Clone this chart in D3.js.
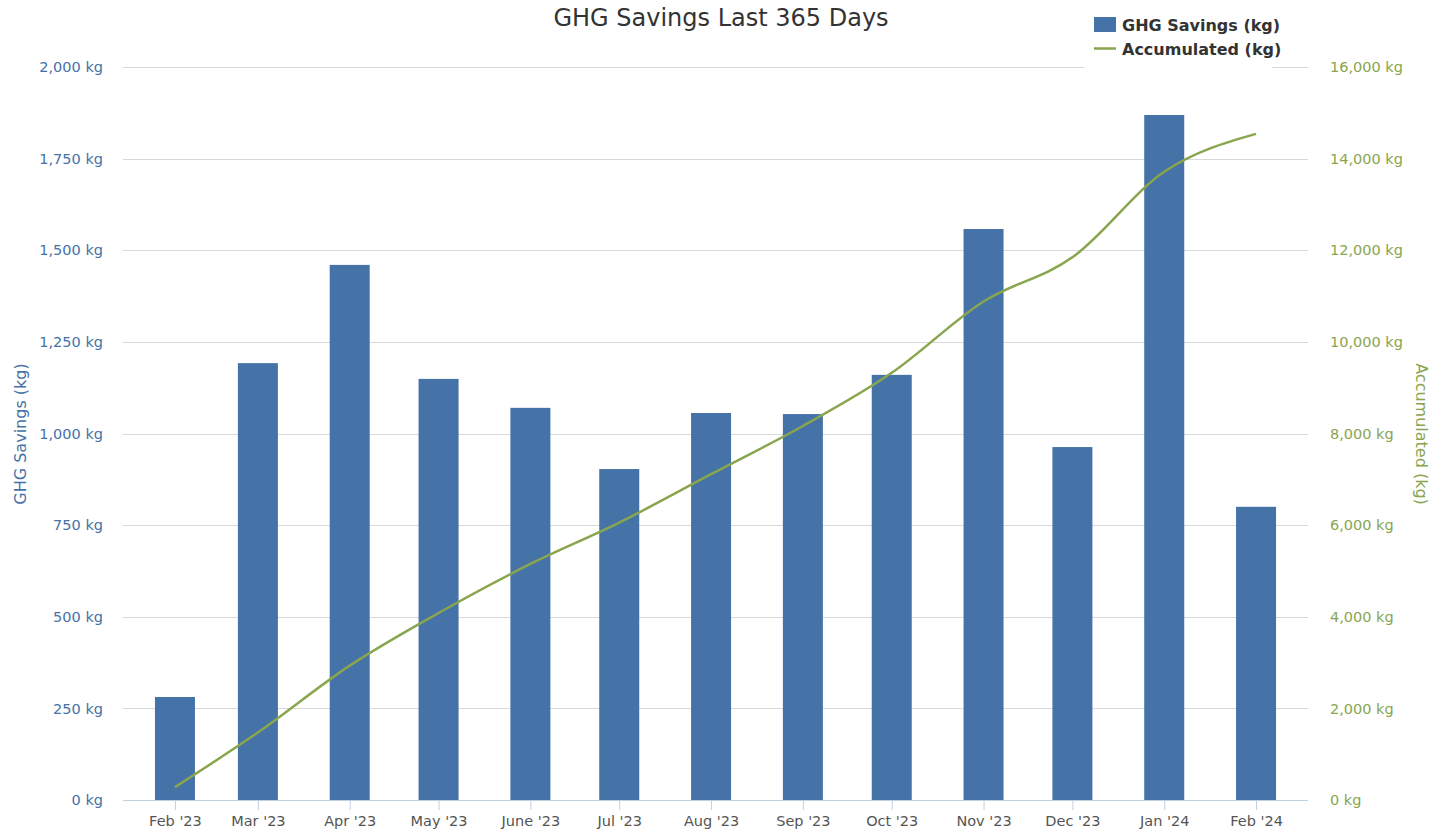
<!DOCTYPE html>
<html>
<head>
<meta charset="utf-8">
<script src="https://cdn.jsdelivr.net/npm/d3@7"></script>
<style>
  html, body { margin: 0; padding: 0; background: #fff; }
  svg { display: block; font-family: "DejaVu Sans", sans-serif; }
</style>
</head>
<body>
<svg id="chart" width="1441" height="832"></svg>
<script>
// ---- data ----
const months = ["2023-02-01","2023-03-01","2023-04-01","2023-05-01","2023-06-01","2023-07-01",
                "2023-08-01","2023-09-01","2023-10-01","2023-11-01","2023-12-01","2024-01-01","2024-02-01"];
const monthLabels = ["Feb '23","Mar '23","Apr '23","May '23","June '23","Jul '23","Aug '23",
                     "Sep '23","Oct '23","Nov '23","Dec '23","Jan '24","Feb '24"];
const savings = [281, 1192, 1460, 1149, 1070, 903, 1056, 1053, 1160, 1558, 963, 1869, 800];
const accumulated = [281, 1473, 2933, 4082, 5152, 6055, 7111, 8164, 9324, 10882, 11845, 13714, 14540];
const leftTicks = [0, 250, 500, 750, 1000, 1250, 1500, 1750, 2000];
const rightTicks = [0, 2000, 4000, 6000, 8000, 10000, 12000, 14000, 16000];
const xDomain = ["2023-01-14T11:00:00Z", "2024-02-18T13:00:00Z"];

const barColor = "#4572A7", lineColor = "#89A54E";
const svg = d3.select("#chart");
const plot = {left: 123, right: 1308, top: 67, bottom: 800};
const dates = months.map(d => new Date(d + "T00:00:00Z"));

const x = d3.scaleUtc().domain(xDomain.map(d => new Date(d))).range([plot.left, plot.right]);
const yL = d3.scaleLinear().domain([0, 2000]).range([plot.bottom, plot.top]);
const yR = d3.scaleLinear().domain([0, 16000]).range([plot.bottom, plot.top]);

// gridlines
svg.append("g").selectAll("line").data(leftTicks.slice(1)).join("line")
  .attr("x1", plot.left).attr("x2", plot.right)
  .attr("y1", d => Math.round(yL(d)) + 0.5).attr("y2", d => Math.round(yL(d)) + 0.5)
  .attr("stroke", "#D8D8D8").attr("stroke-width", 1);

// left axis labels
const yAxisL = d3.axisLeft(yL).tickValues(leftTicks).tickSize(0).tickPadding(20)
  .tickFormat(d => d3.format(",")(d) + " kg");
const gL = svg.append("g").attr("transform", `translate(${plot.left},0)`).call(yAxisL);
gL.select(".domain").remove();
gL.selectAll("text").attr("fill", barColor).attr("font-size", "14.5px")
  .attr("font-family", "DejaVu Sans, sans-serif");

// right axis labels
const yAxisR = d3.axisRight(yR).tickValues(rightTicks).tickSize(0).tickPadding(22)
  .tickFormat(d => d3.format(",")(d) + " kg");
const gR = svg.append("g").attr("transform", `translate(${plot.right},0)`).call(yAxisR);
gR.select(".domain").remove();
gR.selectAll("text").attr("fill", lineColor).attr("font-size", "14.5px")
  .attr("font-family", "DejaVu Sans, sans-serif");

// bars
const barW = 40;
svg.append("g").selectAll("rect").data(savings).join("rect")
  .attr("x", (d, i) => x(dates[i]) - barW / 2)
  .attr("y", d => yL(d))
  .attr("width", barW)
  .attr("height", d => plot.bottom - yL(d))
  .attr("fill", barColor);

// x axis
const xAxis = d3.axisBottom(x).tickValues(dates).tickSize(10).tickPadding(6)
  .tickFormat((d, i) => monthLabels[i]);
const gX = svg.append("g").attr("transform", `translate(0,${plot.bottom})`).call(xAxis);
gX.select(".domain").attr("stroke", "#C0D0E0").attr("d", `M${plot.left},0.5H${plot.right}`);
gX.selectAll(".tick line").attr("stroke", "#C0D0E0");
gX.selectAll("text").attr("fill", "#555").attr("font-size", "14.5px")
  .attr("font-family", "DejaVu Sans, sans-serif");

// line
const line = d3.line().x((d, i) => x(dates[i])).y(d => yR(d)).curve(d3.curveMonotoneX);
svg.append("path").datum(accumulated).attr("d", line)
  .attr("fill", "none").attr("stroke", lineColor).attr("stroke-width", 2.5);

// axis titles
svg.append("text").attr("transform", "translate(26,434) rotate(-90)")
  .attr("text-anchor", "middle").attr("fill", barColor).attr("font-size", "16px")
  .text("GHG Savings (kg)");
svg.append("text").attr("transform", "translate(1416,434) rotate(90)")
  .attr("text-anchor", "middle").attr("fill", lineColor).attr("font-size", "16px")
  .text("Accumulated (kg)");

// title
svg.append("text").attr("x", 721).attr("y", 26).attr("text-anchor", "middle")
  .attr("fill", "#333").attr("font-size", "24px").text("GHG Savings Last 365 Days");

// legend
const lg = svg.append("g");
lg.append("rect").attr("x", 1084).attr("y", 4).attr("width", 188).attr("height", 68).attr("fill", "#fff");
lg.append("rect").attr("x", 1094).attr("y", 17).attr("width", 22).attr("height", 15).attr("fill", barColor);
lg.append("line").attr("x1", 1094).attr("x2", 1116).attr("y1", 48.5).attr("y2", 48.5)
  .attr("stroke", lineColor).attr("stroke-width", 2.5);
lg.append("text").attr("x", 1122).attr("y", 31).attr("font-weight", "bold").attr("font-size", "16px")
  .attr("fill", "#333").text("GHG Savings (kg)");
lg.append("text").attr("x", 1122).attr("y", 55).attr("font-weight", "bold").attr("font-size", "16px")
  .attr("fill", "#333").text("Accumulated (kg)");
</script>
</body>
</html>
